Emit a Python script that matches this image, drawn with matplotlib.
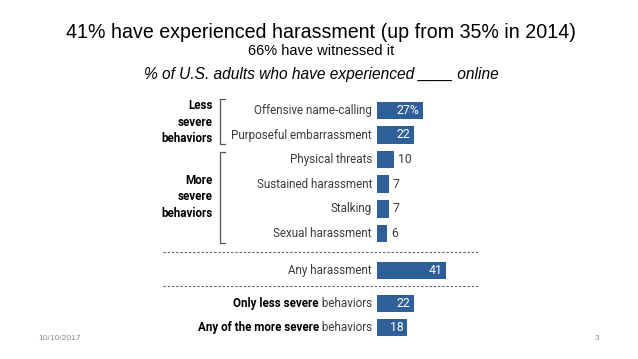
import matplotlib
matplotlib.use("Agg")
import matplotlib.pyplot as plt

# ---- data ----
categories = ["Offensive name-calling", "Purposeful embarrassment", "Physical threats",
              "Sustained harassment", "Stalking", "Sexual harassment", "Any harassment",
              "Only less severe behaviors", "Any of the more severe behaviors"]
values = [27, 22, 10, 7, 7, 6, 41, 22, 18]
value_labels = ["27%", "22", "10", "7", "7", "6", "41", "22", "18"]
bold_parts = [None, None, None, None, None, None, None, "Only less severe", "Any of the more severe"]
groups = ["Less\nsevere\nbehaviors", "More\nsevere\nbehaviors"]

title = "41% have experienced harassment (up from 35% in 2014)"
subtitle = "66% have witnessed it"
subtitle2 = "% of U.S. adults who have experienced ____ online"
date_text = "10/10/2017"
page_text = "3"

# ---- layout ----
W, H = 638, 359
X0 = 377.0      # pixel of value 0
SC = 1.69       # pixels per unit
ypos = [110.7, 135.0, 159.3, 184.0, 208.8, 233.3, 270.5, 303.3, 327.5]
bar_h = 17.5
inside = [True, True, False, False, False, False, True, True, True]
bar_color = "#2e5f98"
label_color = "#3a3a3a"

def vx(px):
    return (px - X0) / SC

fig = plt.figure(figsize=(W / 100, H / 100), dpi=100)
ax = fig.add_axes([0, 0, 1, 1])
ax.set_xlim(vx(0), vx(W))
ax.set_ylim(H, 0)
ax.axis("off")

ax.barh(ypos, values, height=bar_h, color=bar_color, left=0)

lab_font = "Roboto"
fs = 8.4
for y, v, lab, inn in zip(ypos, values, value_labels, inside):
    if inn:
        ax.text(v - 3.5 / SC, y, lab, ha="right", va="center", color="white",
                fontsize=fs + 0.4, family=lab_font)
    else:
        ax.text(v + 4 / SC, y, lab, ha="left", va="center", color=label_color,
                fontsize=fs + 0.4, family=lab_font)

fig.canvas.draw()
renderer = fig.canvas.get_renderer()
for y, cat, bp in zip(ypos, categories, bold_parts):
    if bp is None:
        ax.text(vx(372), y, cat, ha="right", va="center", color=label_color,
                fontsize=fs, family=lab_font)
    else:
        rest = " " + cat[len(bp):].strip()
        t = ax.text(vx(372), y, rest, ha="right", va="center", color=label_color,
                    fontsize=fs, family=lab_font)
        bb = t.get_window_extent(renderer=renderer)
        left_px = bb.x0
        ax.text(vx(left_px), y, bp, ha="right", va="center", color="black",
                fontsize=fs, family=lab_font, fontweight="bold")

# group labels and brackets
group_y = [122.0, 197.0]
brackets = [(99, 144), (152, 243)]
for g, gy in zip(groups, group_y):
    ax.text(vx(213), gy, g, ha="right", va="center", color="black", fontsize=fs,
            family=lab_font, fontweight="bold", linespacing=1.35)
for (t0, t1) in brackets:
    ax.plot([vx(225), vx(220), vx(220), vx(225)], [t0, t0, t1, t1], color="#555555", lw=0.9)

# dashed separators
for yy in (251.7, 285.5):
    ax.plot([vx(163), vx(478)], [yy, yy], color="#666666", lw=0.8, ls=(0, (2.2, 1.6)))

# titles
ax.text(vx(321), 32, title, ha="center", va="center", fontsize=14.1, family="Liberation Sans", color="black")
ax.text(vx(321), 51, subtitle, ha="center", va="center", fontsize=10.5, family="Liberation Sans", color="black")
ax.text(vx(321), 75, subtitle2, ha="center", va="center", fontsize=11.2, family="Liberation Sans",
        style="italic", color="black")

# footer
ax.text(vx(38), 339, date_text, ha="left", va="center", fontsize=6, family="Liberation Sans", color="#8c8c8c")
ax.text(vx(597), 339, page_text, ha="center", va="center", fontsize=6, family="Liberation Sans", color="#8c8c8c")

fig.savefig("out.png", dpi=100)
